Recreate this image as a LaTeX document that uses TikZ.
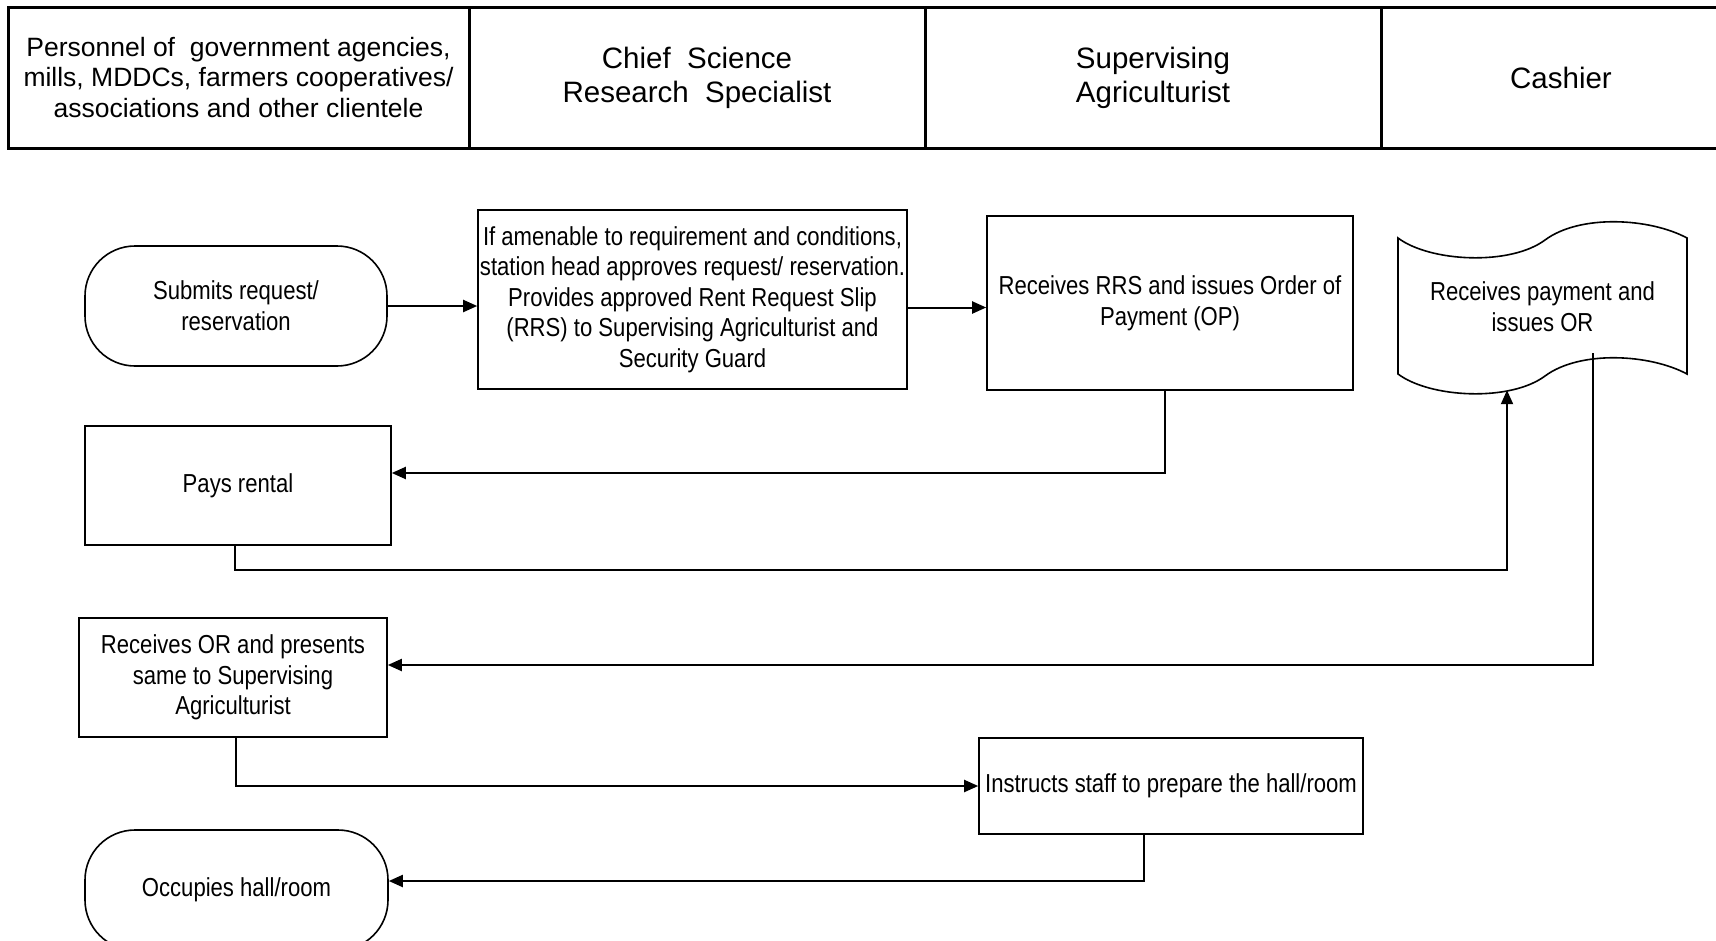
\documentclass[tikz,border=0pt]{standalone}
\usepackage{fontspec}
\setmainfont{Liberation Sans}
\newfontfamily\narrowfont[FakeStretch=0.85]{Liberation Sans}
\usetikzlibrary{arrows.meta}

\begin{document}
\begin{tikzpicture}[x=1pt,y=-1pt,
  lane/.style={draw,line width=3pt,minimum height=141pt,inner sep=0pt,
    align=center,font=\fontsize{29.5}{34}\selectfont},
  term/.style={draw,line width=1.6pt,rounded corners=50pt,minimum width=302pt,
    minimum height=120pt,align=center,font=\narrowfont\fontsize{26}{30.6}\selectfont},
  task/.style={draw,line width=1.6pt,inner sep=0pt,align=center,
    font=\narrowfont\fontsize{26}{30.6}\selectfont},
  flow/.style={line width=2pt,-{Triangle[length=14pt,width=12pt]}}]
  \useasboundingbox (0,0) rectangle (1716,940);
  \node[lane,minimum width=461pt,font=\fontsize{26.5}{30.6}\selectfont] (client) at (238.5,77.5)
    {Personnel of~ government agencies,\\mills, MDDCs, farmers cooperatives/\\associations and other clientele};
  \node[lane,minimum width=456pt] (chief) at (697,77.5) {Chief~ Science\\Research~ Specialist};
  \node[lane,minimum width=456pt] (superv) at (1153,77.5) {Supervising\\Agriculturist};
  \node[lane,minimum width=360pt] (cashier) at (1561,77.5) {Cashier};

  \node[term] (submit) at (236,306) {Submits request/\\reservation};
  \node[task,minimum width=429pt,minimum height=179pt] (approve) at (692.5,299.5)
    {If amenable to requirement and conditions,\\station head approves request/ reservation.\\Provides approved Rent Request Slip\\(RRS) to Supervising Agriculturist and\\Security Guard};
  \node[task,minimum width=366pt,minimum height=174pt] (order) at (1170,303)
    {Receives RRS and issues Order of\\Payment (OP)};
  \node[inner sep=0pt,minimum width=289pt,minimum height=137pt,align=center,
    font=\narrowfont\fontsize{26}{30.6}\selectfont] (payment) at (1542.5,306.5)
    {Receives payment and\\issues OR};
  \draw[line width=1.6pt] (1398,238) .. controls (1430,262) and (1510,266) .. (1545,240)
    .. controls (1580,214) and (1650,218) .. (1687,238) -- (1687,374)
    .. controls (1650,354) and (1580,350) .. (1545,376)
    .. controls (1510,402) and (1430,398) .. (1398,374) -- cycle;
  \node[task,minimum width=306pt,minimum height=119pt] (rental) at (238,485.5) {Pays rental};
  \node[task,minimum width=308pt,minimum height=119pt] (present) at (233,677.5)
    {Receives OR and presents\\same to Supervising\\Agriculturist};
  \node[task,minimum width=384pt,minimum height=96pt] (prepare) at (1171,786)
    {Instructs staff to prepare the hall/room};
  \node[term,minimum width=303pt] (occupy) at (236.5,890) {Occupies hall/room};

  \draw[flow] (submit.east) -- (submit.east -| approve.west);
  \draw[flow] ([yshift=-8pt]approve.east) -- ([yshift=-8pt]approve.east -| order.west);
  \draw[flow] ([xshift=-5pt]order.south) |- ([yshift=12.5pt]rental.east);
  \draw[flow] ([xshift=-3pt]rental.south) -- ++(0,24) -| ([xshift=-35.5pt,yshift=-15pt]payment.south);
  \draw[flow] ([xshift=50.5pt,yshift=22pt]payment.south) |- ([yshift=12.5pt]present.east);
  \draw[flow] ([xshift=3pt]present.south) |- (prepare.west);
  \draw[flow] ([xshift=-27pt]prepare.south) |- ([yshift=9pt]occupy.east);
\end{tikzpicture}
\end{document}
